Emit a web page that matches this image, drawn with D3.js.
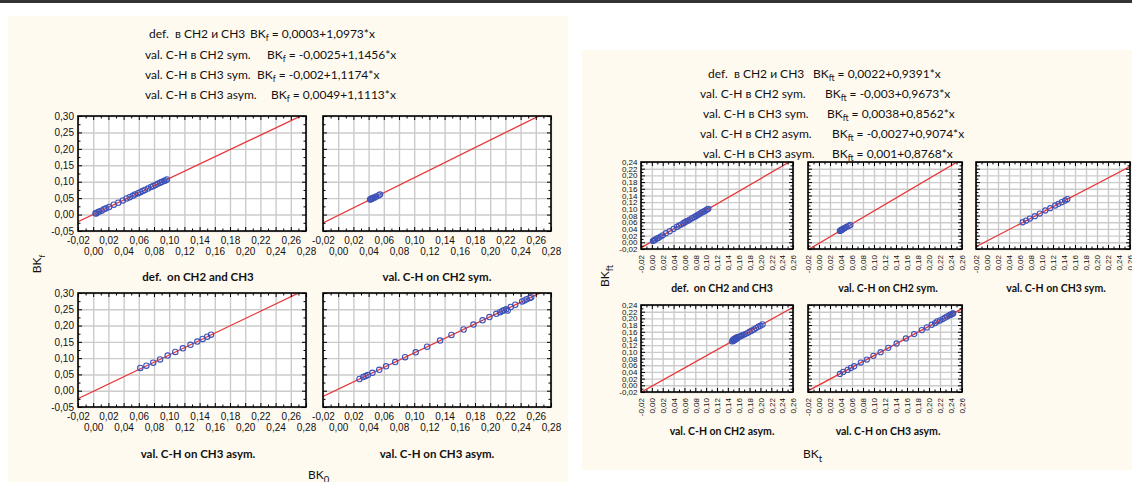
<!doctype html>
<html>
<head>
<style>
  body { margin: 0; background: #ffffff; }
  svg { display: block; }
  .eq { font-family: Lato, "Open Sans", sans-serif; font-size: 12px; fill: #111; white-space: pre; }
  .ttl { font-family: Lato, "Open Sans", sans-serif; font-weight: bold; fill: #111; white-space: pre; }
</style>
<script src="https://d3js.org/d3.v7.min.js"></script>
</head>
<body>
<svg width="1132" height="482"></svg>
<script>
// ---- fit equations ----
var leftNames = ["def.  в CH2 и CH3", "val. C-H в CH2 sym.", "val. C-H в CH3 sym.", "val. C-H в CH3 asym."];
var leftIntercepts = [0.0003, -0.0025, -0.002, 0.0049];
var leftSlopes = [1.0973, 1.1456, 1.1174, 1.1113];

var rightNames = ["def.  в CH2 и CH3", "val. C-H в CH2 sym.", "val. C-H в CH3 sym.", "val. C-H в CH2 asym.", "val. C-H в CH3 asym."];
var rightIntercepts = [0.0022, -0.003, 0.0038, -0.0027, 0.001];
var rightSlopes = [0.9391, 0.9673, 0.8562, 0.9074, 0.8768];

var leftTitles = ["def.  on CH2 and CH3", "val. C-H on CH2 sym.", "val. C-H on CH3 asym.", "val. C-H on CH3 asym."];
var rightTitles = ["def.  on CH2 and CH3", "val. C-H on CH2 sym.", "val. C-H on CH3 sym.", "val. C-H on CH2 asym.", "val. C-H on CH3 asym."];

// ---- left block: BK0 (x) vs BKf (y) ----
var leftDefX = [0.003, 0.004, 0.006, 0.008, 0.011, 0.014, 0.017, 0.021, 0.027, 0.033, 0.039, 0.044, 0.048, 0.052, 0.055, 0.059, 0.062, 0.065, 0.068, 0.072, 0.076, 0.079, 0.082, 0.085, 0.088, 0.090, 0.093, 0.095, 0.097];
var leftDefY = [0.004, 0.003, 0.007, 0.009, 0.012, 0.016, 0.019, 0.023, 0.030, 0.036, 0.043, 0.049, 0.053, 0.057, 0.061, 0.065, 0.068, 0.072, 0.075, 0.079, 0.084, 0.087, 0.090, 0.094, 0.097, 0.099, 0.102, 0.104, 0.107];
var leftCH2symX = [0.042, 0.043, 0.044, 0.045, 0.046, 0.048, 0.050, 0.053, 0.055];
var leftCH2symY = [0.046, 0.047, 0.049, 0.049, 0.051, 0.052, 0.055, 0.058, 0.061];
var leftCH3symX = [0.062, 0.070, 0.079, 0.088, 0.098, 0.108, 0.118, 0.128, 0.137, 0.144, 0.150, 0.155];
var leftCH3symY = [0.070, 0.077, 0.086, 0.096, 0.108, 0.119, 0.130, 0.141, 0.151, 0.159, 0.166, 0.172];
var leftCH3asymX = [0.028, 0.033, 0.036, 0.039, 0.045, 0.054, 0.063, 0.075, 0.088, 0.102, 0.117, 0.134, 0.149, 0.165, 0.178, 0.190, 0.199, 0.208, 0.213, 0.216, 0.218, 0.221, 0.223, 0.227, 0.233, 0.242, 0.245, 0.248, 0.252, 0.254];
var leftCH3asymY = [0.036, 0.042, 0.045, 0.048, 0.055, 0.064, 0.075, 0.088, 0.103, 0.118, 0.135, 0.154, 0.171, 0.188, 0.203, 0.216, 0.226, 0.236, 0.241, 0.245, 0.247, 0.250, 0.246, 0.257, 0.264, 0.274, 0.277, 0.281, 0.285, 0.287];

// ---- right block: BKt (x) vs BKft (y) ----
var rightDefX = [0.002, 0.004, 0.006, 0.009, 0.012, 0.016, 0.020, 0.026, 0.033, 0.040, 0.046, 0.050, 0.054, 0.058, 0.061, 0.064, 0.067, 0.070, 0.074, 0.078, 0.081, 0.084, 0.087, 0.090, 0.093, 0.096, 0.099, 0.102, 0.104];
var rightDefY = [0.004, 0.006, 0.008, 0.011, 0.013, 0.017, 0.021, 0.027, 0.033, 0.040, 0.046, 0.050, 0.053, 0.057, 0.060, 0.063, 0.065, 0.068, 0.072, 0.075, 0.078, 0.081, 0.084, 0.087, 0.090, 0.092, 0.095, 0.098, 0.100];
var rightCH2symX = [0.038, 0.039, 0.040, 0.041, 0.042, 0.043, 0.045, 0.047, 0.050, 0.054, 0.057];
var rightCH2symY = [0.034, 0.035, 0.036, 0.037, 0.038, 0.039, 0.041, 0.043, 0.046, 0.049, 0.052];
var rightCH3symX = [0.065, 0.071, 0.078, 0.087, 0.096, 0.106, 0.115, 0.124, 0.130, 0.136, 0.142, 0.146];
var rightCH3symY = [0.060, 0.065, 0.071, 0.078, 0.086, 0.095, 0.102, 0.110, 0.115, 0.120, 0.125, 0.129];
var rightCH2asymX = [0.148, 0.149, 0.150, 0.151, 0.152, 0.153, 0.154, 0.155, 0.156, 0.157, 0.158, 0.160, 0.162, 0.164, 0.166, 0.169, 0.172, 0.176, 0.180, 0.184, 0.188, 0.192, 0.196, 0.200, 0.204];
var rightCH2asymY = [0.131, 0.135, 0.133, 0.138, 0.134, 0.140, 0.137, 0.142, 0.139, 0.144, 0.141, 0.145, 0.146, 0.147, 0.149, 0.151, 0.153, 0.156, 0.160, 0.163, 0.167, 0.171, 0.175, 0.178, 0.182];
var rightCH3asymX = [0.038, 0.044, 0.052, 0.058, 0.064, 0.076, 0.087, 0.099, 0.112, 0.126, 0.141, 0.158, 0.173, 0.187, 0.196, 0.205, 0.211, 0.215, 0.220, 0.225, 0.229, 0.233, 0.237, 0.239, 0.241, 0.243, 0.244];
var rightCH3asymY = [0.034, 0.040, 0.046, 0.052, 0.057, 0.068, 0.077, 0.088, 0.099, 0.112, 0.125, 0.140, 0.153, 0.165, 0.173, 0.181, 0.186, 0.191, 0.194, 0.198, 0.202, 0.206, 0.209, 0.211, 0.212, 0.214, 0.215];

var svg = d3.select("svg");
var fmt = d3.formatLocale({decimal: ",", thousands: " ", grouping: [3], currency: ["", ""], minus: "-"}).format(".2f");
var num = function(v) { return String(v).replace(".", ","); };

function steps(lo, hi, step) {
  var n = Math.round((hi - lo) / step);
  return d3.range(n + 1).map(function(i) { return +(lo + i * step).toFixed(4); });
}

// page background pieces
svg.append("rect").attr("x", 0).attr("y", 0).attr("width", 1132).attr("height", 3).attr("fill", "#333");
svg.append("rect").attr("x", 8).attr("y", 16).attr("width", 560).attr("height", 466).attr("fill", "#fffaf0");
svg.append("rect").attr("x", 582).attr("y", 50).attr("width", 550).attr("height", 420).attr("fill", "#fffaf0");

function equation(x1, x2, y, name, sub, a, b) {
  svg.append("text").attr("class", "eq").attr("x", x1).attr("y", y).text(name);
  var t = svg.append("text").attr("class", "eq").attr("x", x2).attr("y", y);
  t.append("tspan").text("BK");
  t.append("tspan").attr("font-size", 8.5).attr("dy", 3).text(sub);
  t.append("tspan").attr("dy", -3).text(" = " + num(a) + "+" + num(b) + "*x");
}

var leftEqX = [149, 145, 145, 145], leftBkX = [250, 267, 257, 271], leftEqY = [38, 58.5, 79, 99];
leftNames.forEach(function(n, i) { equation(leftEqX[i], leftBkX[i], leftEqY[i], n, "f", leftIntercepts[i], leftSlopes[i]); });
var rightEqX = [708, 700, 703, 700, 703], rightBkX = [813, 825, 827, 832, 832], rightEqY = [78, 98, 118, 138, 158];
rightNames.forEach(function(n, i) { equation(rightEqX[i], rightBkX[i], rightEqY[i], n, "ft", rightIntercepts[i], rightSlopes[i]); });

var clipN = 0;
function plot(p) {
  var x = d3.scaleLinear().domain(p.xd).range([p.left, p.right]);
  var y = d3.scaleLinear().domain(p.yd).range([p.bottom, p.top]);
  var w = p.right - p.left, h = p.bottom - p.top;
  var xt = steps(p.xd[0], p.xd[1], p.xs), yt = steps(p.yd[0], p.yd[1], p.ys);
  var xm = steps(p.xd[0] + p.xs / 2, p.xd[1] - p.xs / 2, p.xs), ym = steps(p.yd[0] + p.ys / 2, p.yd[1] - p.ys / 2, p.ys);
  var g = svg.append("g");

  g.append("rect").attr("x", p.left).attr("y", p.top).attr("width", w).attr("height", h).attr("fill", "#fff");

  // grid
  var gx = g.append("g").attr("transform", "translate(0," + p.bottom + ")")
    .call(d3.axisBottom(x).tickValues(xt).tickSize(-h).tickFormat(""));
  var gy = g.append("g").attr("transform", "translate(" + p.left + ",0)")
    .call(d3.axisLeft(y).tickValues(yt).tickSize(-w).tickFormat(""));
  [gx, gy].forEach(function(a) {
    a.select(".domain").remove();
    a.selectAll("line").attr("stroke", "#cbcbcb").attr("stroke-width", 1.4);
  });

  // fit line
  var id = "clip" + (clipN++);
  g.append("clipPath").attr("id", id).append("rect")
    .attr("x", p.left).attr("y", p.top).attr("width", w).attr("height", h);
  g.append("line").attr("clip-path", "url(#" + id + ")")
    .attr("x1", x(p.xd[0])).attr("y1", y(p.a + p.b * p.xd[0]))
    .attr("x2", x(p.xd[1])).attr("y2", y(p.a + p.b * p.xd[1]))
    .attr("stroke", "#e8383b").attr("stroke-width", 1.3);

  // points
  g.selectAll("circle.pt").data(p.px).enter().append("circle").attr("class", "pt")
    .attr("cx", function(d) { return x(d); })
    .attr("cy", function(d, i) { return y(p.py[i]); })
    .attr("r", p.r).attr("fill", "none").attr("stroke", "#3d52b8").attr("stroke-width", 1.1);

  // inward ticks on every side
  function ticks(axisFn, tr, vals, scale, len) {
    var a = g.append("g").attr("transform", tr).call(axisFn(scale).tickValues(vals).tickSize(-len).tickFormat(""));
    a.select(".domain").remove();
    a.selectAll("line").attr("stroke", "#000").attr("stroke-width", 1);
  }
  ticks(d3.axisBottom, "translate(0," + p.bottom + ")", xt, x, 4);
  ticks(d3.axisBottom, "translate(0," + p.bottom + ")", xm, x, 2.5);
  ticks(d3.axisTop, "translate(0," + p.top + ")", xt, x, 4);
  ticks(d3.axisTop, "translate(0," + p.top + ")", xm, x, 2.5);
  ticks(d3.axisLeft, "translate(" + p.left + ",0)", yt, y, 4);
  ticks(d3.axisLeft, "translate(" + p.left + ",0)", ym, y, 2.5);
  ticks(d3.axisRight, "translate(" + p.right + ",0)", yt, y, 4);
  ticks(d3.axisRight, "translate(" + p.right + ",0)", ym, y, 2.5);

  g.append("rect").attr("x", p.left).attr("y", p.top).attr("width", w).attr("height", h)
    .attr("fill", "none").attr("stroke", "#000").attr("stroke-width", 1.6);

  // tick labels
  function labels(axis, tr, size) {
    var a = g.append("g").attr("transform", tr).call(axis);
    a.select(".domain").remove();
    a.selectAll("line").remove();
    a.attr("font-family", "'Liberation Sans', Arial, sans-serif").attr("font-size", size);
    a.selectAll("text").attr("fill", "#111");
    return a;
  }
  if (p.yLabels) {
    labels(d3.axisLeft(y).tickValues(yt).tickSize(0).tickPadding(p.yPad).tickFormat(fmt),
      "translate(" + p.left + ",0)", p.fs);
  }
  if (p.rotated) {
    var a = labels(d3.axisBottom(x).tickValues(xt).tickSize(0).tickFormat(fmt), "translate(0," + p.bottom + ")", p.fs);
    a.selectAll("text").attr("y", 0).attr("x", -6).attr("dy", "0.35em")
      .attr("transform", "rotate(-90)").attr("text-anchor", "end");
  } else {
    labels(d3.axisBottom(x).tickValues(xt.filter(function(d, i) { return i % 2 === 0; }))
      .tickSize(0).tickPadding(5.7).tickFormat(fmt), "translate(0," + p.bottom + ")", p.fs);
    labels(d3.axisBottom(x).tickValues(xt.filter(function(d, i) { return i % 2 === 1; }))
      .tickSize(0).tickPadding(17.2).tickFormat(fmt), "translate(0," + p.bottom + ")", p.fs);
  }

  svg.append("text").attr("class", "ttl").attr("x", p.tx).attr("y", p.ty)
    .attr("text-anchor", "middle").attr("font-size", p.tfs).text(p.title);
}

// left block panels
var leftX = [leftDefX, leftCH2symX, leftCH3symX, leftCH3asymX];
var leftY = [leftDefY, leftCH2symY, leftCH3symY, leftCH3asymY];
var lCols = [[78, 306], [323, 551]], lRows = [[116, 231], [293, 407]];
var lTitleY = [281, 458], lTitleX = [198, 437];
for (var i = 0; i < 4; i++) {
  var c = i % 2, r = Math.floor(i / 2);
  plot({
    left: lCols[c][0], right: lCols[c][1], top: lRows[r][0], bottom: lRows[r][1],
    xd: [-0.02, 0.28], xs: 0.02, yd: [-0.05, 0.30], ys: 0.05,
    a: leftIntercepts[i], b: leftSlopes[i], px: leftX[i], py: leftY[i], r: 2.7,
    yLabels: c === 0, yPad: 4, rotated: false, fs: 10,
    title: leftTitles[i], tx: lTitleX[c], ty: lTitleY[r], tfs: 11.5
  });
}

// right block panels
var rightX = [rightDefX, rightCH2symX, rightCH3symX, rightCH2asymX, rightCH3asymX];
var rightY = [rightDefY, rightCH2symY, rightCH3symY, rightCH2asymY, rightCH3asymY];
var rCols = [[641, 793], [808, 962], [976, 1130]], rRows = [[162, 249], [305, 392]];
var rTitleX = [722, 888, 1056], rTitleY = [292, 435];
for (var j = 0; j < 5; j++) {
  var rc = j % 3, rr = Math.floor(j / 3);
  plot({
    left: rCols[rc][0], right: rCols[rc][1], top: rRows[rr][0], bottom: rRows[rr][1],
    xd: [-0.02, 0.26], xs: 0.02, yd: [-0.02, 0.24], ys: 0.02,
    a: rightIntercepts[j], b: rightSlopes[j], px: rightX[j], py: rightY[j], r: 2.6,
    yLabels: rc === 0, yPad: 3.5, rotated: true, fs: 8,
    title: rightTitles[j], tx: rTitleX[rc], ty: rTitleY[rr], tfs: 10.5
  });
}

// axis titles
function bk(xp, yp, sub, size, rot) {
  var t = svg.append("text").attr("class", "eq").attr("font-size", size)
    .attr("transform", "translate(" + xp + "," + yp + ")" + (rot ? " rotate(-90)" : ""))
    .attr("text-anchor", rot ? "middle" : "start");
  t.append("tspan").text("BK");
  t.append("tspan").attr("font-size", size * 0.7).attr("dy", size * 0.3).text(sub);
}
bk(308, 479, "0", 13.5, false);
bk(803, 458, "t", 13.5, false);
bk(41, 264, "f", 12, true);
bk(609, 276, "ft", 13, true);
</script>
</body>
</html>
